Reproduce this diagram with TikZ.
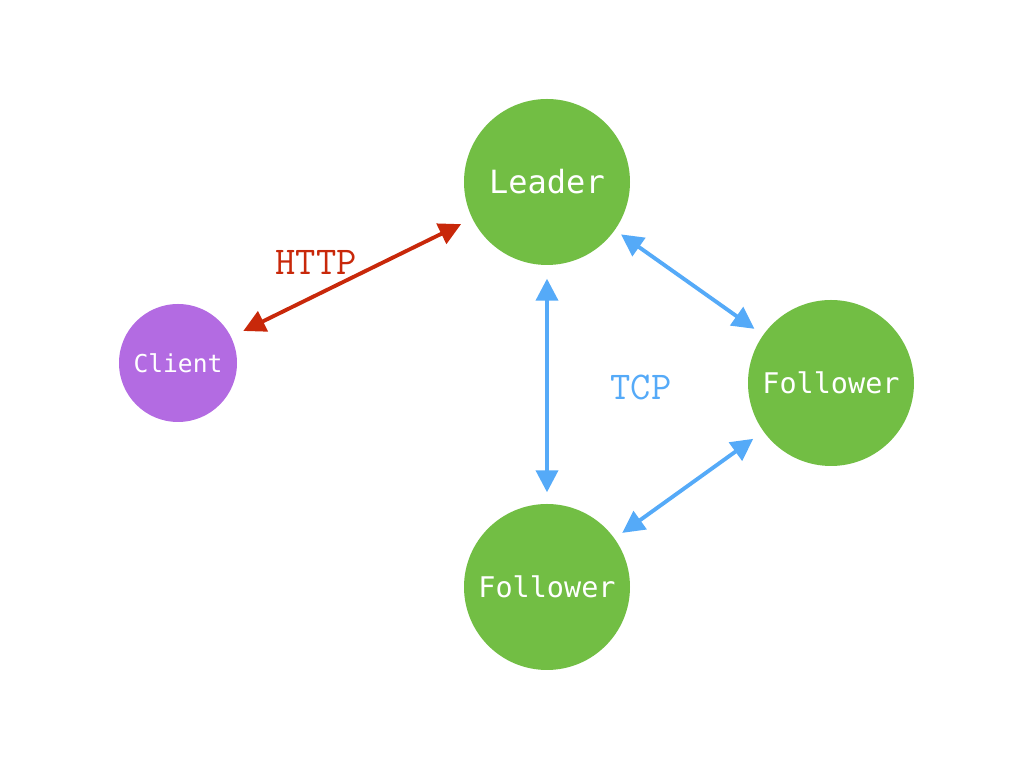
\documentclass[tikz,border=0pt]{standalone}
\usepackage{fontspec}
\newfontfamily\nodefont{DejaVu Sans Mono}
\definecolor{rfgreen}{RGB}{114,190,68}
\definecolor{rfpurple}{RGB}{179,107,226}
\definecolor{rfred}{RGB}{200,40,10}
\definecolor{rfblue}{RGB}{85,170,248}
\usetikzlibrary{arrows.meta,positioning}

\begin{document}
\begin{tikzpicture}[
  server/.style={circle, fill=rfgreen, draw=none, minimum size=1.66cm, inner sep=0pt, text=white},
  link/.style={{Triangle[length=0.22cm,width=0.22cm]}-{Triangle[length=0.22cm,width=0.22cm]}, line width=1.1pt}]
  \useasboundingbox (0,0) rectangle (10.24,7.68);
  \node[server, font=\nodefont\fontsize{9.1}{11}\selectfont] (leader) at (5.47,5.86) {Leader};
  \node[server, font=\nodefont\fontsize{8.1}{10}\selectfont] (fright) at (8.31,3.85) {Follower};
  \node[server, font=\nodefont\fontsize{8.1}{10}\selectfont] (fbottom) at (5.47,1.81) {Follower};
  \node[circle, fill=rfpurple, draw=none, minimum size=1.18cm, inner sep=0pt, text=white, font=\nodefont\fontsize{7}{9}\selectfont] (client) at (1.78,4.05) {Client};
  % connections
  \draw[link, rfred, shorten <=0.13cm, shorten >=0.12cm] (client) -- (leader);
  \draw[link, rfblue, shorten <=0.13cm, shorten >=0.11cm] (leader) -- (fbottom);
  \draw[link, rfblue, shorten <=0.07cm, shorten >=0.10cm] (leader) -- (fright);
  \draw[link, rfblue, shorten <=0.12cm, shorten >=0.09cm] (fright) -- (fbottom);
  \node[text=rfred, font=\ttfamily\fontsize{11.2}{13}\selectfont] (http) at (3.16,5.06) {HTTP};
  \node[text=rfblue, font=\ttfamily\fontsize{11.2}{13}\selectfont] (tcp) at (6.41,3.81) {TCP};
\end{tikzpicture}
\end{document}
